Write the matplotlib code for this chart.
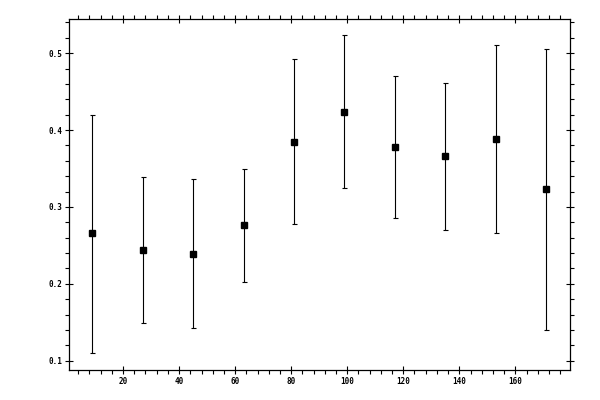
import matplotlib
matplotlib.use("Agg")
import matplotlib.pyplot as plt
from matplotlib.ticker import MultipleLocator

x = [9, 27, 45, 63, 81, 99, 117, 135, 153, 171]
y = [0.266, 0.244, 0.239, 0.276, 0.384, 0.423, 0.378, 0.366, 0.388, 0.323]
upper = [0.420, 0.339, 0.336, 0.350, 0.492, 0.523, 0.470, 0.461, 0.510, 0.505]
lower = [0.110, 0.149, 0.142, 0.202, 0.278, 0.324, 0.285, 0.270, 0.266, 0.140]

yerr = [[v - l for v, l in zip(y, lower)], [u - v for v, u in zip(y, upper)]]

fig = plt.figure(figsize=(6, 4), dpi=100)
ax = fig.add_axes([69 / 600, 1 - 370 / 400, (570 - 69) / 600, (370 - 19.3) / 400])

ax.errorbar(x, y, yerr=yerr, fmt='s', color='black', markersize=4.8,
            elinewidth=0.8, capsize=1.8, capthick=0.8, ecolor='black')

ax.set_xlim(0.7, 179.5)
ax.set_ylim(0.088, 0.544)
ax.xaxis.set_major_locator(MultipleLocator(20))
ax.xaxis.set_minor_locator(MultipleLocator(4))
ax.yaxis.set_major_locator(MultipleLocator(0.1))
ax.yaxis.set_minor_locator(MultipleLocator(0.02))
ax.set_xticks([20, 40, 60, 80, 100, 120, 140, 160])
ax.set_yticks([0.1, 0.2, 0.3, 0.4, 0.5])
ax.set_xticklabels(['20', '40', '60', '80', '100', '120', '140', '160'])
ax.set_yticklabels(['0.1', '0.2', '0.3', '0.4', '0.5'])

ax.tick_params(which='major', direction='inout', length=6, width=0.8,
               top=True, right=True, labelsize=5.5, pad=2)
ax.tick_params(which='minor', direction='out', length=2.8, width=0.8,
               top=True, right=True)
for lab in ax.get_xticklabels() + ax.get_yticklabels():
    lab.set_family('DejaVu Sans Mono')
    lab.set_fontweight('bold')
for s in ax.spines.values():
    s.set_linewidth(0.9)

fig.savefig('out.png', dpi=100)
